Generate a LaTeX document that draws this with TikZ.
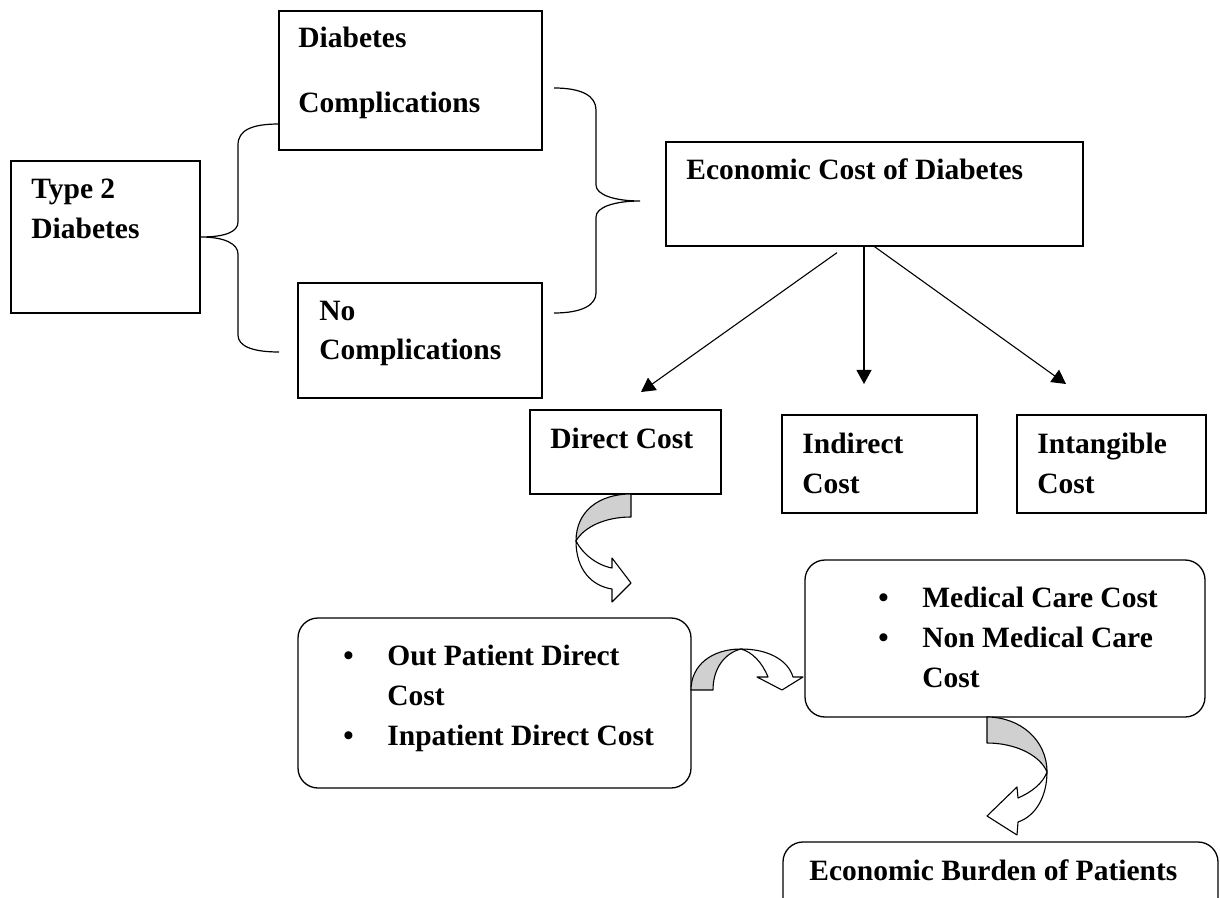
\documentclass[tikz,border=0pt]{standalone}
\usepackage{fontspec}
\setmainfont{Liberation Serif}
\usetikzlibrary{arrows.meta,fit}
\definecolor{bandgray}{RGB}{208,208,208}
\newcommand{\bulitem}{\makebox[22pt][l]{\textbullet}}

\begin{document}
\begin{tikzpicture}[x=0.5pt,y=0.5pt,yscale=-1,
  box/.style={draw,line width=0.65pt,inner sep=0pt},
  rbox/.style={box,rounded corners=10pt},
  txt/.style={anchor=base west,inner sep=0pt,align=left,font=\fontsize{14.75}{20}\selectfont\bfseries},
  arr/.style={line width=0.55pt,-{Triangle[length=7pt,width=7.5pt]}},
  brc/.style={line width=0.6pt},
  band/.style={draw,line width=0.55pt,line join=round}]
\useasboundingbox (0,0) rectangle (1220,898);
\clip (0,0) rectangle (1220,898);

%Shape: Rectangle
\node[box,fit={(11,161) (200,313)}] (t2) {};
\node[box,fit={(279,11) (542,150)}] (dc) {};
\node[box,fit={(298,283) (542,398)}] (nc) {};
\node[box,fit={(666,142) (1083,246)}] (ec) {};
\node[box,fit={(530,410) (721,494)}] (dir) {};
\node[box,fit={(782,415) (977,513)}] (ind) {};
\node[box,fit={(1017,415) (1206,513)}] (int) {};
%Shape: Rounded Rect
\node[rbox,fit={(298,618) (691,788)}] (ip) {};
\node[rbox,fit={(805,560) (1205,717)}] (mc) {};
\node[rbox,fit={(783,842) (1218,930)}] (eb) {};

% Text Node (base = last line)
\node[txt] (t2-t) at (31,239) {Type 2\\Diabetes};
\node[txt] (dc-t) at (298,113) {Diabetes\\[12.5pt]Complications};
\node[txt] (nc-t) at (319,360) {No\\Complications};
\node[txt] (ec-t) at (686,180) {Economic Cost of Diabetes};
\node[txt] (dir-t) at (550,448) {Direct Cost};
\node[txt] (ind-t) at (802,493) {Indirect\\Cost};
\node[txt] (int-t) at (1037,493) {Intangible\\Cost};
\node[txt] (ip-t) at (343,745) {\bulitem Out Patient Direct\\\hspace*{22pt}Cost\\\bulitem Inpatient Direct Cost};
\node[txt] (mc-t) at (878,687) {\bulitem Medical Care Cost\\\bulitem Non Medical Care\\\hspace*{22pt}Cost};
\node[txt] (eb-t) at (809,880) {Economic Burden of Patients};

%Shape: Brace
\draw[brc] (279,124) .. controls (252,124) and (238,130) .. (238,145) -- (238,222) .. controls (238,232) and (225,237) .. (t2.east) .. controls (225,237) and (238,244) .. (238,254) -- (238,335) .. controls (238,346) and (252,352) .. (279,352);
\coordinate (cb-tip) at (640,201);
\draw[brc] (554,88) .. controls (582,88) and (596,96) .. (596,110) -- (596,185) .. controls (596,195) and (615,201) .. (cb-tip) .. controls (615,201) and (596,207) .. (596,217) -- (596,293) .. controls (596,305) and (582,313) .. (554,313);

%Straight Lines
\coordinate (dir-tip) at (641,392);
\coordinate (ind-tip) at (864,384);
\coordinate (int-tip) at (1066,384);
\draw[arr] ([xshift=-18.75pt,yshift=3pt]ec.south) -- (dir-tip);
\draw[arr] ([xshift=-5.25pt]ec.south) -- (ind-tip);
\draw[arr] (ec.south) -- (int-tip);

%Shape: Curved Arrow
\draw[band,fill=bandgray] (631,494) -- (631,517) .. controls (605,517) and (584,527) .. (576,541) .. controls (576,512) and (598,494) .. (631,494) -- cycle;
\draw[band,fill=white] (576,541) .. controls (582,553) and (596,565) .. (612,568) -- (612,558) -- (631,583) -- (612,602) -- (612,589) .. controls (592,586) and (576,570) .. (576,541) -- cycle;
%Shape: Curved Arrow
\draw[band,fill=bandgray] (691,690) .. controls (691,665) and (712,649) .. (741,649) .. controls (725,653) and (713,668) .. (713,690) -- cycle;
\draw[band,fill=white] (741,649) .. controls (768,649) and (788,660) .. (793,677) -- (803,677) -- (782,690) -- (757,677) -- (768,677) .. controls (762,662) and (752,652) .. (741,649) -- cycle;
%Shape: Curved Arrow
\draw[band,fill=bandgray] (987,717) -- (987,743) .. controls (1015,743) and (1040,755) .. (1047,772) .. controls (1047,740) and (1020,717) .. (987,717) -- cycle;
\draw[band,fill=white] (1047,772) .. controls (1047,796) and (1036,816) .. (1018,822) -- (1017,835) -- (987,816) -- (1017,787) -- (1018,798) .. controls (1032,792) and (1043,783) .. (1047,772) -- cycle;

\end{tikzpicture}
\end{document}
